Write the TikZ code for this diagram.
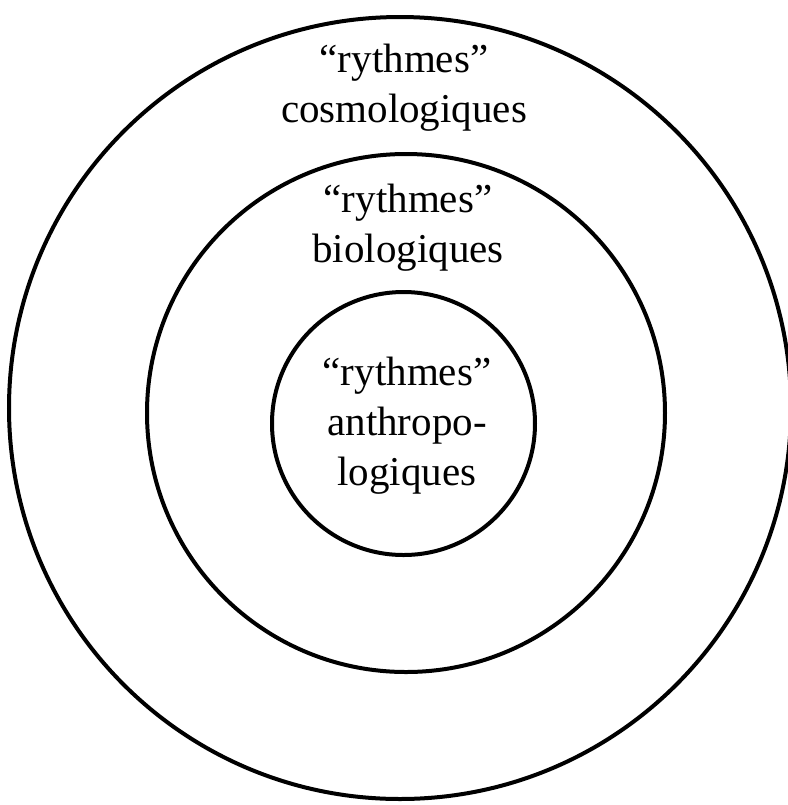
\documentclass[tikz,border=0pt]{standalone}
\usepackage{fontspec}
\setmainfont{Liberation Serif}
\usetikzlibrary{positioning}

\begin{document}
\begin{tikzpicture}[x=0.5pt, y=-0.5pt,
        ring/.style = {draw, circle, line width=2pt, inner sep=0pt, outer sep=0pt},
        rtext/.style = {align=center, anchor=north, inner sep=0pt, font=\fontsize{20.5}{25}\selectfont}]
        \useasboundingbox (0,0) rectangle (788,805);
        \node (outer) [ring, minimum size=391pt] at (400,408) {};
        \node (middle) [ring, minimum size=259pt] at (406,413) {};
        \node (inner) [ring, minimum size=131.5pt] at (403.5,423.5) {};
        \node (cosmo) [rtext] at (404,44) {``rythmes''\\ cosmologiques};
        \node (bio) [rtext] at (408,184) {``rythmes''\\ biologiques};
        \node (anthropo) [rtext] at (407,357) {``rythmes''\\ anthropo-\\ logiques};
    \end{tikzpicture}
\end{document}
